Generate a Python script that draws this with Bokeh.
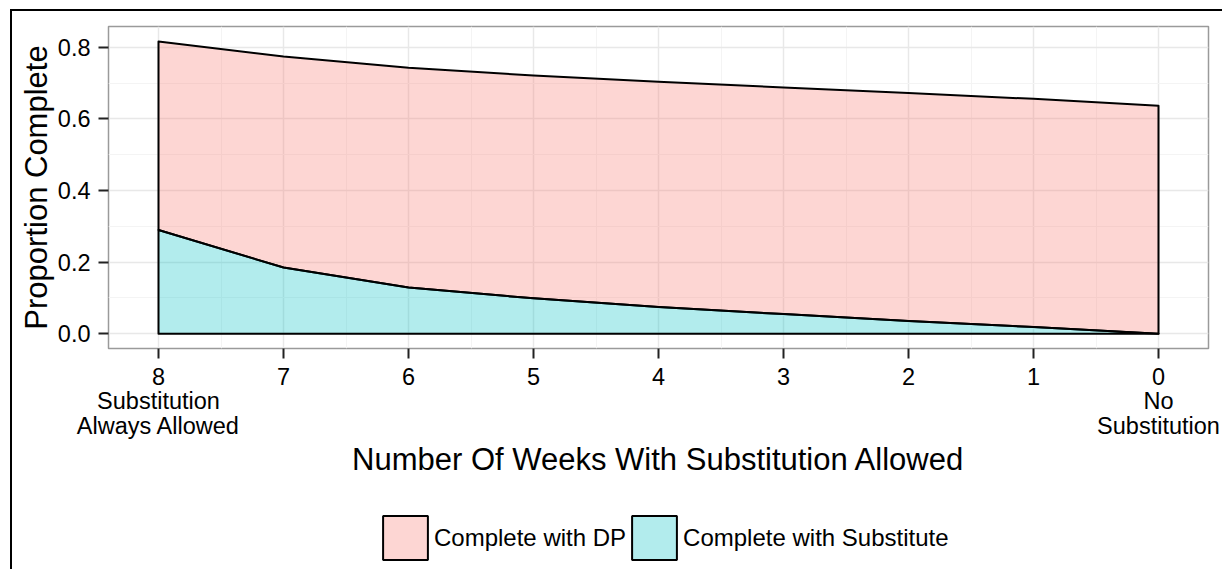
from bokeh.plotting import figure
from bokeh.layouts import column
from bokeh.models import Range1d, FixedTicker, Legend, LegendItem
from bokeh.embed import file_html
from bokeh.resources import INLINE

# ---- data ----
weeks = [8, 7, 6, 5, 4, 3, 2, 1, 0]
complete_total = [0.816, 0.774, 0.743, 0.721, 0.704, 0.688, 0.672, 0.656, 0.637]
complete_substitute = [0.290, 0.185, 0.129, 0.099, 0.075, 0.055, 0.036, 0.019, 0.0]
series_labels = ["Complete with DP", "Complete with Substitute"]
series_colors = ["#F8766D", "#00BFC4"]
x_ticks = [8, 7, 6, 5, 4, 3, 2, 1, 0]
x_tick_labels = ["8\nSubstitution\nAlways Allowed", "7", "6", "5", "4", "3", "2", "1",
                 "0\nNo\nSubstitution"]
y_ticks = [0.0, 0.2, 0.4, 0.6, 0.8]
x_title = "Number Of Weeks With Substitution Allowed"
y_title = "Proportion Complete"

FONT = "Liberation Sans"

p = figure(width=1210, height=468,
           x_range=Range1d(8.4, -0.4), y_range=Range1d(-0.041, 0.858),
           output_backend="svg", toolbar_location=None,
           min_border_left=96, min_border_right=14, min_border_top=15, min_border_bottom=130)

p.background_fill_color = "white"
p.border_fill_color = "white"
p.outline_line_color = "#9a9a9a"
p.outline_line_width = 1.5

# grid
for g in (p.xgrid, p.ygrid):
    g.grid_line_color = "#E8E8E8"
    g.grid_line_width = 1.5
    g.minor_grid_line_color = "#F4F4F4"
    g.minor_grid_line_width = 1

# polygons built from data
xs_band = weeks + weeks[::-1]
dp_y = complete_total + complete_substitute[::-1]
sub_y = complete_substitute + [0.0] * len(weeks)

p.patch(xs_band, dp_y, fill_color=series_colors[0], fill_alpha=0.3,
        line_color="black", line_width=2, line_join="round")
p.patch(xs_band, sub_y, fill_color=series_colors[1], fill_alpha=0.3,
        line_color="black", line_width=2, line_join="round")

# axes
xa = p.xaxis[0]
ya = p.yaxis[0]
xa.ticker = FixedTicker(ticks=x_ticks, minor_ticks=[7.5, 6.5, 5.5, 4.5, 3.5, 2.5, 1.5, 0.5])
xa.major_label_overrides = {t: lab for t, lab in zip(x_ticks, x_tick_labels)}
ya.ticker = FixedTicker(ticks=y_ticks, minor_ticks=[0.1, 0.3, 0.5, 0.7])
ya.major_label_overrides = {t: f"{t:.1f}" for t in y_ticks}

for ax in (xa, ya):
    ax.axis_line_color = None
    ax.major_tick_line_color = "#222222"
    ax.major_tick_line_width = 2
    ax.major_tick_out = 10
    ax.major_tick_in = 0
    ax.minor_tick_line_color = None
    ax.major_label_text_font = FONT
    ax.major_label_text_font_size = "23.5px"
    ax.major_label_text_color = "black"
    ax.axis_label_text_font = FONT
    ax.axis_label_text_font_size = "31px"
    ax.axis_label_text_font_style = "normal"
    ax.axis_label_text_color = "black"

xa.axis_label = x_title
ya.axis_label = y_title
xa.major_label_standoff = 5
xa.major_label_text_line_height = 0.95
xa.axis_label_standoff = 0
ya.major_label_standoff = 8
ya.axis_label_standoff = 1

# ---- legend strip (own small figure under the plot) ----
pl = figure(width=1210, height=90, x_range=Range1d(0, 1), y_range=Range1d(0, 1),
            output_backend="svg", toolbar_location=None,
            x_axis_location=None, y_axis_location=None, min_border=0)
pl.grid.visible = False
pl.outline_line_color = None
pl.background_fill_color = "white"
pl.border_fill_color = "white"
# hidden copies of the two areas: they only supply the legend keys
k_dp = pl.patch(xs_band, dp_y, fill_color=series_colors[0], fill_alpha=0.3,
                line_color="black", line_width=2, visible=False)
k_sub = pl.patch(xs_band, sub_y, fill_color=series_colors[1], fill_alpha=0.3,
                 line_color="black", line_width=2, visible=False)

legend = Legend(items=[LegendItem(label=series_labels[0], renderers=[k_dp]),
                       LegendItem(label=series_labels[1], renderers=[k_sub])],
                location=(269, 4), orientation="horizontal")
legend.label_text_font = FONT
legend.label_text_font_size = "24px"
legend.label_text_color = "black"
legend.glyph_width = 56
legend.glyph_height = 55
legend.label_standoff = 1
legend.spacing = 0
legend.padding = 0
legend.margin = 0
legend.border_line_color = None
legend.background_fill_alpha = 0
legend.inactive_fill_alpha = 0
pl.add_layout(legend, "center")

layout = column(p, pl, spacing=0)
layout.styles = {"border-left": "2px solid black", "border-top": "2px solid black",
                 "margin-left": "10px", "margin-top": "9px"}

open("out.html", "w").write(file_html(layout, INLINE))
